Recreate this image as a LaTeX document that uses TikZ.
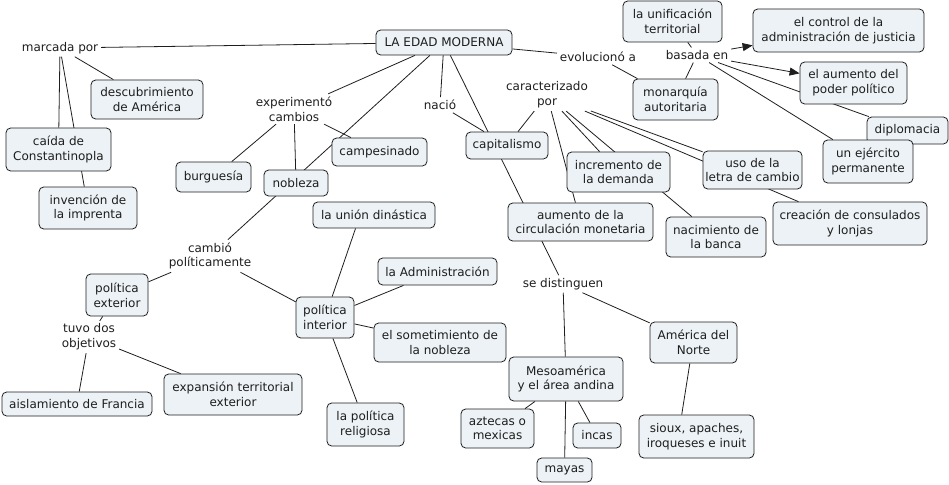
\documentclass[tikz,border=0pt]{standalone}
\usepackage{fontspec}
\setmainfont{DejaVu Sans}
\usetikzlibrary{arrows.meta}
\pgfdeclarelayer{bg}
\pgfsetlayers{bg,main}
\definecolor{boxfill}{RGB}{236,242,245}
\definecolor{ink}{RGB}{30,30,30}
\begin{document}
\begin{tikzpicture}[x=0.75pt,y=-0.75pt,
  every node/.style={font=\fontsize{9pt}{11pt}\selectfont, align=center, text=ink},
  box/.style={draw=ink, line width=0.6pt, fill=boxfill, rounded corners=3.5pt, inner sep=1pt},
  sz/.style 2 args={minimum width=#1*0.75pt, minimum height=#2*0.75pt},
  lbl/.style={inner sep=2pt},
  conn/.style={draw=ink, line width=0.6pt},
  arr/.style={conn, -{Triangle[length=7.5pt,width=6pt]}}]
\useasboundingbox (0,0) rectangle (949,485);

\node[box,sz={136}{25}] (edad) at (444,42.5) {LA EDAD MODERNA};
\node[lbl] (marcada) at (60,48) {marcada por};
\node[box,sz={112}{39}] (desc) at (147,99.5) {descubrimiento\\de América};
\node[box,sz={105}{43}] (caida) at (58.5,149.5) {caída de\\Constantinopla};
\node[box,sz={98}{42}] (inven) at (88,208) {invención de\\la imprenta};
\node[lbl] (exper) at (294,109) {experimentó\\cambios};
\node[box,sz={75}{30}] (burg) at (213.5,177) {burguesía};
\node[box,sz={64}{26}] (nobleza) at (296,183) {nobleza};
\node[box,sz={95}{28}] (campes) at (379.5,152) {campesinado};
\node[lbl] (nacio) at (440,105) {nació};
\node[box,sz={82}{27}] (capital) at (507,145.5) {capitalismo};
\node[lbl] (caract) at (547,95) {caracterizado\\por};
\node[lbl] (evol) at (598,57) {evolucionó a};
\node[box,sz={99}{41}] (unif) at (672.5,21.5) {la unificación\\territorial};
\node[box,sz={171}{43}] (control) at (838.5,30.5) {el control de la\\administración de justicia};
\node[lbl] (basada) at (697,55) {basada en};
\node[box,sz={85}{41}] (monarq) at (675.5,99.5) {monarquía\\autoritaria};
\node[box,sz={107}{42}] (poder) at (853.5,83) {el aumento del\\poder político};
\node[box,sz={81}{27}] (diplo) at (907.5,130.5) {diplomacia};
\node[box,sz={90}{43}] (ejerc) at (868,161.5) {un ejército\\permanente};
\node[box,sz={99}{38}] (uso) at (752.5,170) {uso de la\\letra de cambio};
\node[box,sz={154}{43}] (consul) at (850,223.5) {creación de consulados\\y lonjas};
\node[box,sz={100}{40}] (banca) at (716,237) {nacimiento de\\la banca};
\node[box,sz={103}{40}] (demanda) at (618.5,172) {incremento de\\la demanda};
\node[box,sz={145}{38}] (circ) at (580.5,222) {aumento de la\\circulación monetaria};
\node[box,sz={122}{26}] (union) at (374,215) {la unión dinástica};
\node[lbl] (cambio) at (210,256) {cambió\\políticamente};
\node[box,sz={62}{42}] (polext) at (117,295) {política\\exterior};
\node[lbl] (tuvo) at (89,337) {tuvo dos\\objetivos};
\node[box,sz={150}{24}] (aisl) at (77,404) {aislamiento de Francia};
\node[box,sz={138}{41}] (expan) at (233,394.5) {expansión territorial\\exterior};
\node[box,sz={58}{41}] (polint) at (325,317.5) {política\\interior};
\node[box,sz={119}{27}] (admin) at (437.5,271.5) {la Administración};
\node[box,sz={132}{39}] (somet) at (440,342.5) {el sometimiento de\\la nobleza};
\node[box,sz={77}{43}] (relig) at (365.5,424.5) {la política\\religiosa};
\node[lbl] (sedist) at (563,284) {se distinguen};
\node[box,sz={114}{44}] (meso) at (566,379) {Mesoamérica\\y el área andina};
\node[box,sz={87}{41}] (norte) at (693.5,342.5) {América del\\Norte};
\node[box,sz={73}{39}] (azte) at (497.5,428.5) {aztecas o\\mexicas};
\node[box,sz={48}{25}] (incas) at (597,435.5) {incas};
\node[box,sz={55}{24}] (mayas) at (564.5,470) {mayas};
\node[box,sz={115}{43}] (sioux) at (696.5,436.5) {sioux, apaches,\\iroqueses e inuit};

\begin{pgfonlayer}{bg}
\draw[conn] (edad) -- (marcada);
\draw[conn] (marcada) -- (desc);
\draw[conn] (marcada) -- (caida);
\draw[conn] (marcada) -- (inven);
\draw[conn] (edad) -- (exper);
\draw[conn] (exper) -- (burg);
\draw[conn] (exper) -- (nobleza);
\draw[conn] (exper) -- (campes);
\draw[conn] (edad) -- (cambio);
\draw[conn] (cambio) -- (polext);
\draw[conn] (cambio) -- (polint);
\draw[conn] (polext) -- (tuvo);
\draw[conn] (tuvo) -- (aisl);
\draw[conn] (tuvo) -- (expan);
\draw[conn] (polint) -- (union.216);
\draw[conn] (polint) -- (admin);
\draw[conn] (polint) -- (somet);
\draw[conn] (polint) -- (relig);
\draw[conn] (edad) -- (nacio);
\draw[conn] (nacio) -- (capital);
\draw[conn] (capital) -- (caract);
\draw[conn] (caract) -- (circ);
\draw[conn] (caract) -- (demanda);
\draw[conn] (caract) -- (banca);
\draw[conn] (caract) -- (uso);
\draw[conn] (caract) -- (consul);
\draw[conn] (edad) -- (sedist);
\draw[conn] (sedist) -- (meso);
\draw[conn] (sedist) -- (norte);
\draw[conn] (meso) -- (azte);
\draw[conn] (meso) -- (mayas);
\draw[conn] (meso) -- (incas);
\draw[conn] (norte.260) -- (sioux.124);
\draw[conn] (edad) -- (evol);
\draw[conn] (evol) -- (monarq);
\draw[conn] (monarq) -- (basada);
\draw[conn] (unif) -- (basada);
\draw[arr] (basada) -- (control);
\draw[arr] (basada) -- (poder);
\draw[conn] (basada) -- (diplo);
\draw[conn] (basada) -- (ejerc);
\end{pgfonlayer}
\end{tikzpicture}
\end{document}
